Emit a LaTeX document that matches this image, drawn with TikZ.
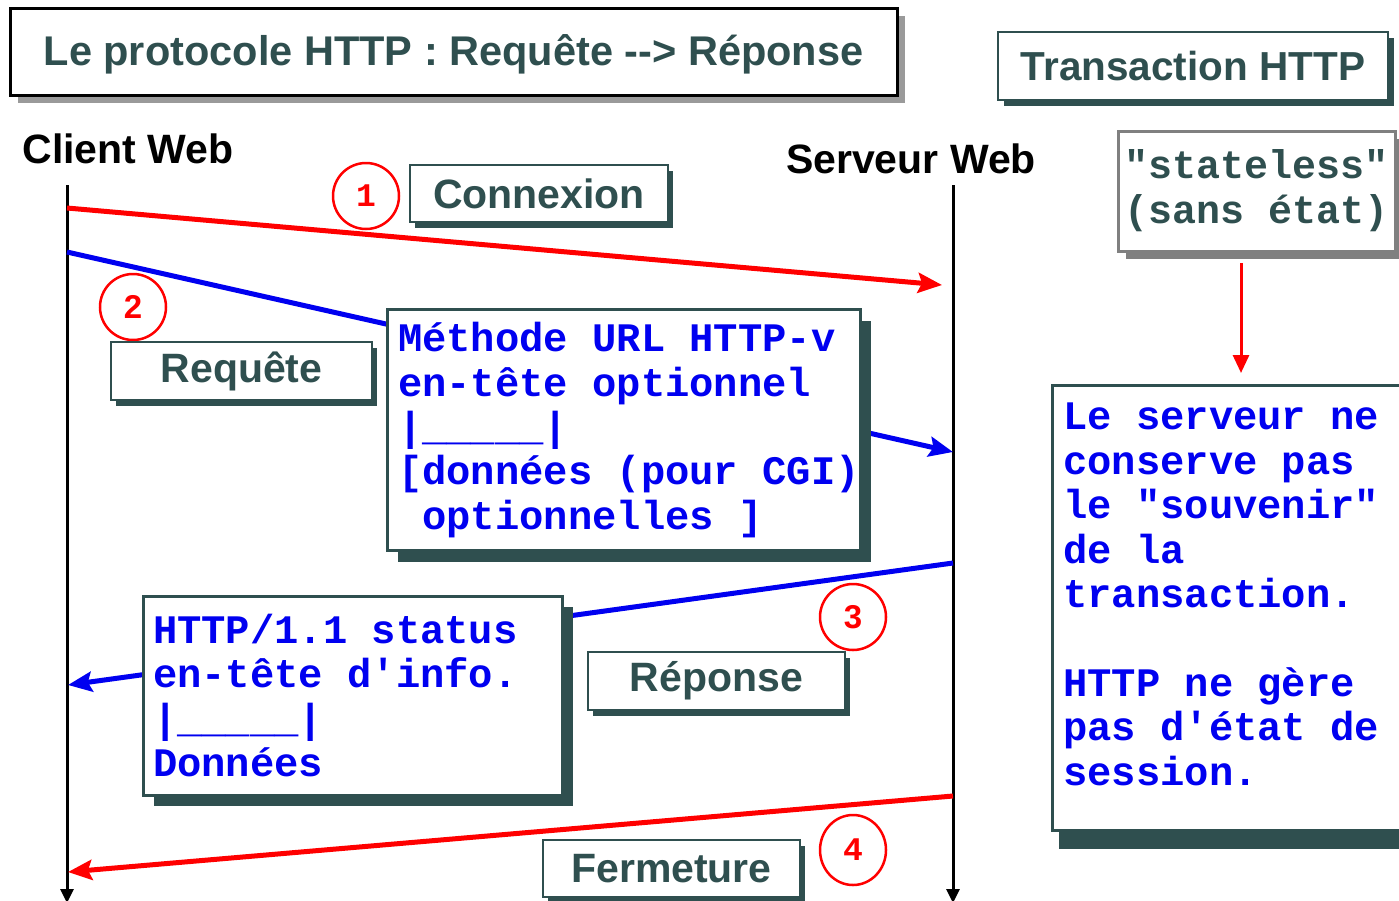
\documentclass[tikz,border=0pt]{standalone}
\usepackage{fontspec}
\setmainfont{Liberation Sans}
\setmonofont{Liberation Mono}
\usetikzlibrary{arrows.meta,shadows,shapes.geometric}
\definecolor{slate}{HTML}{2F4F4F}
\definecolor{shgray}{HTML}{9A9A9A}
\definecolor{bordgray}{HTML}{808080}
\definecolor{myblue}{HTML}{0000F0}
\definecolor{myred}{HTML}{FF0000}
\newcommand{\fixsp}{\spaceskip=0.6em\relax\xspaceskip=0.6em\relax}
\tikzset{
  lbl/.style={draw=slate, line width=2.5pt, fill=white, text=slate,
    font=\fontsize{41}{45}\selectfont\bfseries, inner sep=0pt,
    drop shadow={shadow xshift=5pt, shadow yshift=-6pt, fill=slate, opacity=1}},
  bigbox/.style={draw=slate, line width=3pt, fill=white, text=myblue,
    font=\fontsize{40.5}{44.4}\selectfont\ttfamily\bfseries, inner ysep=0pt,
    align=left, drop shadow={shadow xshift=11pt, shadow yshift=-11pt, fill=slate, opacity=1}},
  num/.style={circle, draw=myred, line width=2.5pt, minimum size=66pt, inner sep=0pt,
    text=myred, font=\fontsize{33}{33}\selectfont\bfseries},
  msgred/.style={draw=myred, line width=5pt, -{Stealth[length=24pt,width=20pt,inset=4pt]}},
  msgblue/.style={draw=myblue, line width=5pt, -{Stealth[length=24pt,width=20pt,inset=4pt]}},
  life/.style={draw=black, line width=3pt, -{Triangle[length=14pt,width=13pt]}},
  actor/.style={font=\fontsize{41}{44}\selectfont\bfseries, text=black, inner sep=0pt},
}
\begin{document}
\begin{tikzpicture}[x=1pt,y=-1pt]
\clip (0,0) rectangle (1399,900);
\fill[white] (0,0) rectangle (1399,900);

% lifelines
\coordinate (cTop) at (67,185);
\coordinate (cBot) at (67,903);
\coordinate (sTop) at (953,185);
\coordinate (sBot) at (953,903);
\draw[life] (cTop) -- (cBot);
\draw[life] (sTop) -- (sBot);

% message endpoints
\coordinate (m1a) at (67,208);
\coordinate (m1b) at (942,285);
\coordinate (m2a) at (67,252);
\coordinate (m2b) at (953,452);
\coordinate (m3a) at (953,563);
\coordinate (m3b) at (68,685);
\coordinate (m4a) at (953,796);
\coordinate (m4b) at (68,872);

\draw[msgred] (m1a) -- (m1b);
\draw[msgblue] (m2a) -- (m2b);
\draw[msgblue] (m3a) -- (m3b);
\draw[msgred] (m4a) -- (m4b);

% title
\node[draw=black, line width=3pt, fill=white, text=slate, inner sep=0pt,
  minimum width=887pt, minimum height=87pt, text depth=3pt,
  font=\fontsize{41.5}{45}\selectfont\bfseries,
  drop shadow={shadow xshift=8pt, shadow yshift=-8pt, fill=shgray, opacity=1}]
  (title) at (453.5,51.5) {Le protocole HTTP : Requête -{}-> Réponse};

\node[draw=slate, line width=2.5pt, fill=white, text=slate, inner sep=0pt,
  minimum width=390pt, minimum height=68pt,
  font=\fontsize{40.5}{44}\selectfont\bfseries,
  drop shadow={shadow xshift=6pt, shadow yshift=-6pt, fill=slate, opacity=1}]
  (trans) at (1193,66) {Transaction HTTP};

% actors
\node[actor] (client) at (128,149) {Client Web};
\node[actor] (server) at (911,159) {Serveur Web};

% stateless
\node[draw=bordgray, line width=3pt, fill=white, text=slate, inner sep=0pt,
  minimum width=277pt, minimum height=120pt, align=center,
  font=\fontsize{40}{45}\selectfont\ttfamily\bfseries,
  drop shadow={shadow xshift=8pt, shadow yshift=-8pt, fill=bordgray, opacity=1}]
  (state) at (1256.5,191) {"stateless"\\(sans état)};
\coordinate (sa) at (1241,263);
\coordinate (sb) at (1241,373);
\draw[draw=myred, line width=3pt, -{Triangle[length=18pt,width=16pt]}] (sa) -- (sb);

% right box
\node[draw=slate, line width=3pt, fill=white, inner sep=0pt,
  minimum width=370pt, minimum height=445pt,
  drop shadow={shadow xshift=7pt, shadow yshift=-19pt, fill=slate, opacity=1}]
  (rbox) at (1237,607.5) {};
\node[anchor=north west, inner sep=0pt, text=myblue, align=left,
  font=\fontsize{40.5}{44.4}\selectfont\ttfamily\bfseries]
  (rtext) at (1063,403) {Le serveur ne\\conserve pas\\le "souvenir"\\de la\\transaction.\\[44.4pt]HTTP ne gère\\pas d'état de\\session.};

% labels
\node[num] (n1) at (366,196) {\ttfamily 1};
\node[lbl, minimum width=258pt, minimum height=57pt] (conn) at (539,193.5) {Connexion};

\node[num] (n2) at (133,307) {2};
\node[lbl, minimum width=261pt, minimum height=58pt] (req) at (241.5,371) {Requête};

\node[bigbox, inner xsep=11pt, text width=451pt, minimum height=241pt] (meth) at (623.5,430)
  {\fixsp Méthode URL HTTP-v\\en-tête optionnel\\|\_\_\_\_\_|\\{[}données~(pour~CGI)\\\phantom{o}optionnelles ]};

\node[num] (n3) at (853,617) {3};
\node[lbl, minimum width=257pt, minimum height=58pt] (rep) at (716.5,681) {Réponse};

\node[bigbox, inner xsep=10pt, text width=399pt, minimum height=199pt] (resp) at (352.5,695.5)
  {\fixsp HTTP/1.1 status\\en-tête d'info.\\|\_\_\_\_\_|\\Données};

\node[num, ellipse, minimum width=66pt, minimum height=70pt] (n4) at (853,850) {\ttfamily 4};
\node[lbl, minimum width=257pt, minimum height=57pt] (ferm) at (671.5,868.5) {Fermeture};

\end{tikzpicture}
\end{document}
